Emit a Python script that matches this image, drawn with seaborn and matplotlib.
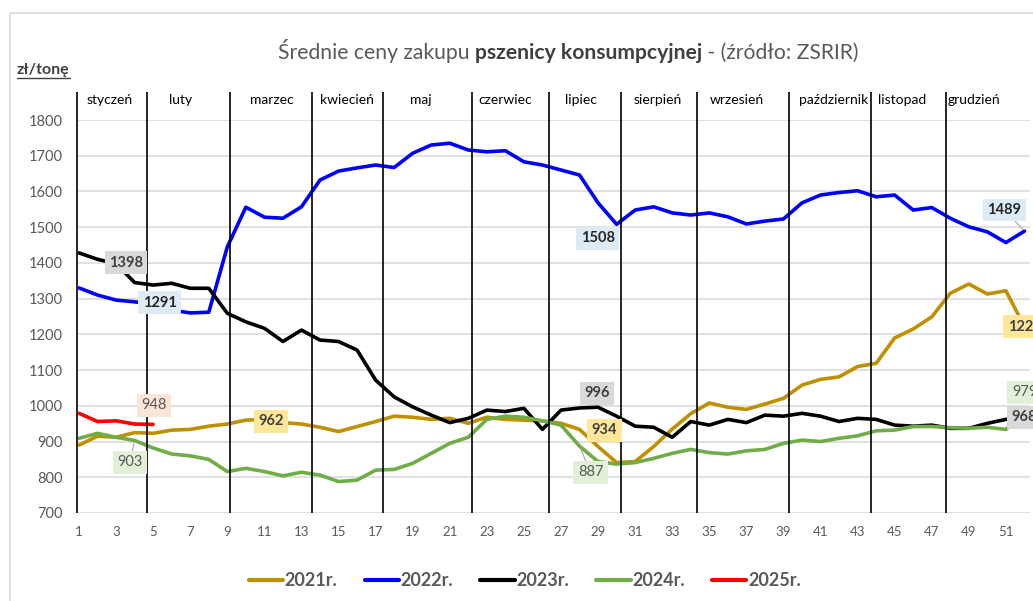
import matplotlib
matplotlib.use("Agg")
import matplotlib.pyplot as plt
import numpy as np
import pandas as pd
import seaborn as sns
from matplotlib.patches import Rectangle
from matplotlib.lines import Line2D

# dane: średnie ceny tygodniowe (zł/t)
weeks = list(range(1, 53))
y2021 = [890, 915, 912, 925, 923, 932, 934, 943, 949, 960,
         962, 953, 949, 940, 928, 942, 956, 971, 968, 962,
         965, 951, 968, 962, 960, 958, 951, 934, 886, 841,
         844, 886, 935, 978, 1008, 996, 990, 1005, 1021, 1058,
         1074, 1081, 1110, 1119, 1190, 1215, 1249, 1315, 1341, 1313,
         1322, 1222]
y2022 = [1330, 1310, 1296, 1291, 1285, 1268, 1260, 1262, 1445, 1556,
         1528, 1525, 1557, 1632, 1657, 1666, 1674, 1667, 1707, 1730,
         1735, 1716, 1711, 1714, 1683, 1674, 1660, 1646, 1568, 1508,
         1548, 1557, 1540, 1534, 1540, 1529, 1509, 1517, 1523, 1568,
         1590, 1597, 1602, 1585, 1590, 1548, 1555, 1525, 1501, 1487,
         1457, 1489]
y2023 = [1428, 1410, 1398, 1345, 1338, 1343, 1329, 1329, 1259, 1235,
         1217, 1180, 1212, 1184, 1180, 1156, 1072, 1025, 997, 974,
         953, 965, 988, 984, 993, 934, 988, 994, 996, 971,
         943, 940, 912, 956, 946, 962, 953, 974, 971, 979,
         971, 956, 965, 962, 946, 943, 946, 937, 937, 951,
         962, 968]
y2024 = [909, 923, 912, 903, 882, 865, 860, 850, 816, 825,
         816, 804, 814, 806, 788, 792, 820, 822, 839, 867,
         895, 912, 962, 971, 968, 958, 946, 887, 844, 837,
         841, 853, 867, 878, 869, 865, 874, 878, 895, 904,
         900, 909, 916, 930, 932, 942, 942, 939, 937, 940,
         934, 979]
y2025 = [979, 956, 958, 949, 948]

years = ["2021r.", "2022r.", "2023r.", "2024r.", "2025r."]
colors = ["#BF9000", "#0000FF", "#000000", "#70AD47", "#FF0000"]

months = ["styczeń", "luty", "marzec", "kwiecień", "maj", "czerwiec", "lipiec",
          "sierpień", "wrzesień", "październik", "listopad", "grudzień"]
month_pos = [2.67, 6.5, 11.4, 15.45, 19.45, 24.0, 28.1, 32.2, 36.5, 41.7, 45.4, 49.3]
month_sep = [0.89, 4.67, 9.14, 13.57, 17.40, 22.2, 26.35, 30.23, 34.33, 39.30, 43.72, 47.76]

# etykiety danych: rok, tydzień, przesunięcie (px), linia odniesienia
labels = [
    ("2023r.", 3, (10, 1), False),
    ("2022r.", 4, (25, -1), False),
    ("2025r.", 5, (1, 19), False),
    ("2021r.", 11, (7, -2), False),
    ("2024r.", 4, (-5, -22), True),
    ("2022r.", 30, (-19, -14), False),
    ("2023r.", 29, (-1, 14), False),
    ("2021r.", 28, (25, -1), False),
    ("2024r.", 28, (11, -26), True),
    ("2022r.", 52, (-20, 21), True),
    ("2021r.", 52, (0, 0), False),
    ("2024r.", 52, (0, 21), False),
    ("2023r.", 52, (0, 0), False),
]
label_style = {
    "2021r.": ("#FFE699", "#404040", "bold"),
    "2022r.": ("#DDEBF7", "#262626", "bold"),
    "2023r.": ("#D9D9D9", "#404040", "bold"),
    "2024r.": ("#E2F0D9", "#595959", "normal"),
    "2025r.": ("#FBE5D6", "#595959", "normal"),
}

series = {"2021r.": y2021, "2022r.": y2022, "2023r.": y2023, "2024r.": y2024, "2025r.": y2025}
df = pd.concat([pd.DataFrame({"tydzien": weeks[:len(v)], "cena": v, "rok": k})
                for k, v in series.items()], ignore_index=True)

sns.set_style("white")
plt.rcParams["font.family"] = ["Lato", "DejaVu Sans"]

fig = plt.figure(figsize=(10.33, 6.01), dpi=100)
ax = fig.add_axes([78.1 / 1033, 1 - 513 / 601, (1030 - 78.1) / 1033, 393 / 601])

sns.lineplot(data=df, x="tydzien", y="cena", hue="rok", hue_order=years,
             palette=dict(zip(years, colors)), lw=2.6, estimator=None, sort=False,
             ax=ax, zorder=3)
for ln in ax.get_lines():
    ln.set_solid_joinstyle("round")
    ln.set_solid_capstyle("round")

ax.set_xlim(0.95, 52.3)
ax.set_ylim(700, 1800)
ax.set_yticks(range(700, 1801, 100))
ax.set_xticks(range(1, 52, 2))
ax.grid(axis="y", color="#D9D9D9", lw=1.1)
ax.grid(axis="x", visible=False)
for s in ax.spines.values():
    s.set_visible(False)
ax.tick_params(length=0)
ax.tick_params(axis="y", labelsize=10.5, labelcolor="#595959", pad=11)
ax.tick_params(axis="x", labelsize=9.5, labelcolor="#595959", pad=9)
ax.set_xlabel("")
ax.set_ylabel("")

# granice miesięcy
ax.vlines(month_sep, 700, 1878, colors="black", lw=1.2, clip_on=False, zorder=4)
for m, x in zip(months, month_pos):
    ax.text(x, 1856, m, ha="center", va="center", fontsize=10, color="black", clip_on=False)

# etykiety danych
for yr, wk, off, lead in labels:
    val = series[yr][wk - 1]
    fc, tc, fw = label_style[yr]
    kw = {}
    if lead:
        kw["arrowprops"] = dict(arrowstyle="-", color="#A6A6A6", lw=0.8, shrinkA=0, shrinkB=2)
    ax.annotate(str(val), xy=(wk, val), xytext=off, textcoords="offset pixels",
                ha="center", va="center", fontsize=10.5, color=tc, fontweight=fw,
                bbox=dict(boxstyle="square,pad=0.3", fc=fc, ec="none"),
                zorder=6, annotation_clip=False, **kw)

# legenda
handles, lbls = ax.get_legend_handles_labels()
leg = ax.legend(handles, lbls, loc="center", bbox_to_anchor=(0.508, 1 - 581 / 601),
                bbox_transform=fig.transFigure, ncol=5, frameon=False,
                handlelength=1.9, handletextpad=0.1, columnspacing=1.5,
                prop={"weight": "bold", "size": 13})
for t in leg.get_texts():
    t.set_color("#595959")
for h in leg.get_lines():
    h.set_linewidth(3)

# tytuł z pogrubionym fragmentem
parts = [("Średnie ceny zakupu ", "normal", "#595959"),
         ("pszenicy konsumpcyjnej", "bold", "#404040"),
         (" - (źródło: ZSRIR)", "normal", "#595959")]
ty = 1 - 59 / 601
t0 = fig.text(0.27, ty, parts[0][0], fontsize=15.2, fontweight=parts[0][1],
              color=parts[0][2], ha="left", va="baseline")
prev = t0
title_parts = [t0]
for txt, fw, c in parts[1:]:
    prev = ax.annotate(txt, xy=(1, 0), xycoords=prev, va="bottom", ha="left",
                       fontsize=15.2, fontweight=fw, color=c, annotation_clip=False)
    title_parts.append(prev)

unit = fig.text(17 / 1033, 1 - 74 / 601, "zł/tonę", fontsize=11.5, fontweight="bold",
                color="#404040", ha="left", va="baseline")

fig.canvas.draw()
r = fig.canvas.get_renderer()
x_left = title_parts[0].get_window_extent(r).x0
x_right = title_parts[-1].get_window_extent(r).x1
shift = 568.5 - (x_left + x_right) / 2
t0.set_x(t0.get_position()[0] + shift / 1033)

ub = unit.get_window_extent(r)
fig.add_artist(Line2D([ub.x0 / 1033, ub.x1 / 1033], [(ub.y0 - 1) / 601] * 2,
                      color="#404040", lw=1))

# ramka wykresu
fig.add_artist(Rectangle((10 / 1033, -0.05), 1.2, 1.05 - 13 / 601, fill=False,
                         ec="#D9D9D9", lw=1.2, transform=fig.transFigure))

fig.savefig("out.png", dpi=100)
